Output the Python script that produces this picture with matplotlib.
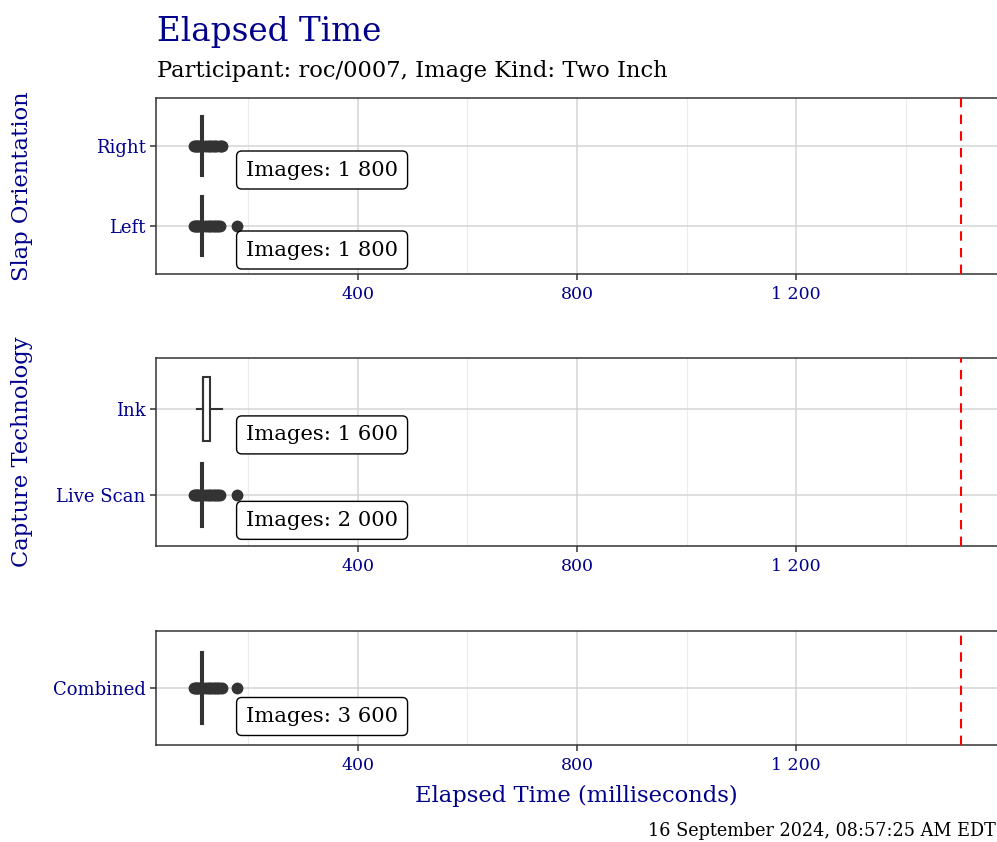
import matplotlib
matplotlib.use("Agg")
import matplotlib.pyplot as plt
from matplotlib.ticker import MultipleLocator

plt.rcParams['font.family'] = ['DejaVu Serif']

# ---- data (milliseconds) ----
slap_labels = ["Left", "Right"]
slap_counts = [1800, 1800]
slap_q1 = [115, 115]
slap_med = [116, 116]
slap_q3 = [118, 118]
slap_lo = [113, 113]
slap_hi = [120, 120]
slap_fliers = [
    [101, 103, 105, 107, 109, 111, 122, 125, 128, 131, 134, 137, 140, 143, 146, 149, 179],
    [101, 103, 105, 107, 109, 111, 122, 125, 128, 131, 134, 137, 140, 144, 148, 151, 153],
]

tech_labels = ["Live Scan", "Ink"]
tech_counts = [2000, 1600]
tech_q1 = [115, 117]
tech_med = [116, 117]
tech_q3 = [118, 131]
tech_lo = [113, 106]
tech_hi = [120, 152]
tech_fliers = [
    [101, 103, 105, 107, 109, 111, 122, 125, 128, 131, 134, 137, 140, 143, 146, 149, 179],
    [],
]

comb_labels = ["Combined"]
comb_counts = [3600]
comb_q1 = [115]
comb_med = [116]
comb_q3 = [118]
comb_lo = [113]
comb_hi = [120]
comb_fliers = [
    [101, 103, 105, 107, 109, 111, 122, 125, 128, 131, 134, 137, 140, 143, 146, 149, 152, 179],
]

threshold = 1500
x_limits = (32, 1570)
label_x = 179

DARKBLUE = "#00008B"
DARKGREY = "#333333"

W, H = 997, 842
fig = plt.figure(figsize=(W / 100, H / 100), dpi=100)


def px_axes(top, bottom, left=156, right=999):
    return fig.add_axes([left / W, (H - bottom) / H, (right - left) / W, (bottom - top) / H])


def fmt_num(v):
    return f"{v:,.0f}".replace(",", " ")


def draw_panel(ax, labels, counts, q1, med, q3, lo, hi, fliers):
    pos = list(range(1, len(labels) + 1))
    stats = []
    for i in range(len(labels)):
        stats.append(dict(med=med[i], q1=q1[i], q3=q3[i], whislo=lo[i],
                          whishi=hi[i], fliers=fliers[i], label=labels[i]))
    ax.bxp(stats, positions=pos, widths=0.75, orientation="horizontal",
           patch_artist=True, showcaps=False,
           boxprops=dict(facecolor="white", edgecolor=DARKGREY, linewidth=1.5),
           medianprops=dict(color=DARKGREY, linewidth=1.5),
           whiskerprops=dict(color=DARKGREY, linewidth=1.5),
           flierprops=dict(marker="o", markerfacecolor=DARKGREY,
                           markeredgecolor=DARKGREY, markersize=7.5),
           zorder=3)
    # count labels, box left edge sits on label_x
    fs = 15.2
    pad = 0.45
    for p, n in zip(pos, counts):
        ax.annotate(f"Images: {fmt_num(n)}", (label_x, p - 0.3),
                    xytext=(pad * fs, 0), textcoords="offset points",
                    ha="left", va="center", fontsize=fs, color="black", zorder=5,
                    bbox=dict(boxstyle=f"round,pad={pad},rounding_size=0.25",
                              facecolor="white", edgecolor="black", linewidth=1.0))
    ax.axvline(threshold, color="red", linewidth=1.5, dashes=(4.5, 3.5), zorder=4)

    ax.set_xlim(*x_limits)
    ax.set_ylim(0.4, len(labels) + 0.6)
    ax.set_yticks(pos)
    ax.set_yticklabels(labels)
    ax.xaxis.set_major_locator(MultipleLocator(400))
    ax.xaxis.set_minor_locator(MultipleLocator(200))
    ax.xaxis.set_major_formatter(lambda v, _: fmt_num(v))
    ax.grid(which="major", color="#d4d4d4", linewidth=1.1, zorder=0)
    ax.grid(which="minor", axis="x", color="#ececec", linewidth=0.8, zorder=0)
    ax.set_axisbelow(True)
    ax.tick_params(which="major", length=4, width=1.1, color=DARKGREY)
    ax.tick_params(axis="x", labelsize=12.5, pad=4.5)
    ax.tick_params(axis="y", labelsize=13)
    ax.tick_params(which="minor", length=0)
    for t in ax.get_xticklabels() + ax.get_yticklabels():
        t.set_color(DARKBLUE)
    for s in ax.spines.values():
        s.set_color(DARKGREY)
        s.set_linewidth(1.1)


ax1 = px_axes(98, 274)
draw_panel(ax1, slap_labels, slap_counts, slap_q1, slap_med, slap_q3,
           slap_lo, slap_hi, slap_fliers)
ax2 = px_axes(358, 546)
draw_panel(ax2, tech_labels, tech_counts, tech_q1, tech_med, tech_q3,
           tech_lo, tech_hi, tech_fliers)
ax3 = px_axes(631, 745)
draw_panel(ax3, comb_labels, comb_counts, comb_q1, comb_med, comb_q3,
           comb_lo, comb_hi, comb_fliers)

fig.text(22 / W, (H - 186) / H, "Slap Orientation", rotation=90, ha="center",
         va="center", fontsize=16.3, color=DARKBLUE)
fig.text(22 / W, (H - 452) / H, "Capture Technology", rotation=90, ha="center",
         va="center", fontsize=16.3, color=DARKBLUE)
fig.text(576 / W, (H - 802) / H, "Elapsed Time (milliseconds)", ha="center",
         va="baseline", fontsize=16.3, color=DARKBLUE)

fig.text(157 / W, (H - 41) / H, "Elapsed Time", ha="left", va="baseline",
         fontsize=23.5, color=DARKBLUE)
fig.text(157 / W, (H - 77) / H, "Participant: roc/0007, Image Kind: Two Inch",
         ha="left", va="baseline", fontsize=16.3, color="black")
fig.text(996 / W, (H - 836) / H, "16 September 2024, 08:57:25 AM EDT",
         ha="right", va="baseline", fontsize=12.7, color="black")

fig.savefig("out.png", dpi=100)
